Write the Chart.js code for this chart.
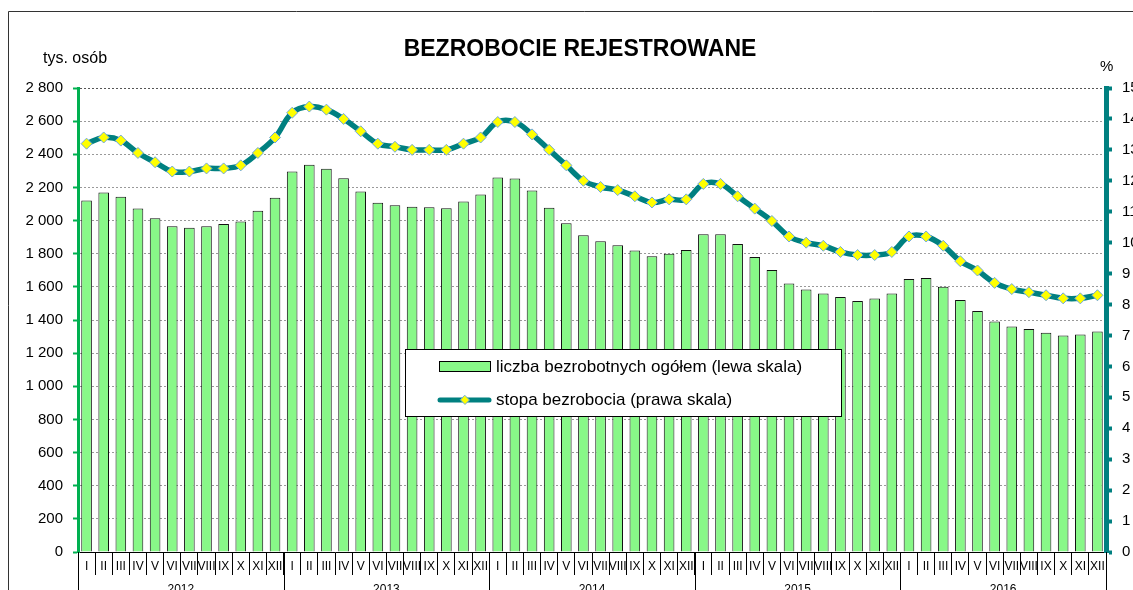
<!DOCTYPE html>
<html>
<head>
<meta charset="utf-8">
<script src="https://cdn.jsdelivr.net/npm/chart.js@4/dist/chart.umd.min.js"></script>
<style>
  html, body { margin: 0; padding: 0; background: #fff; overflow: hidden; }
  #wrap { position: absolute; left: 0; top: 0; width: 1160px; height: 600px; }
</style>
</head>
<body>
<div id="wrap"><canvas id="chart" width="1160" height="600"></canvas></div>
<script>
// Monthly data 2012-2016
const monthLabels = ['I', 'II', 'III', 'IV', 'V', 'VI', 'VII', 'VIII', 'IX', 'X', 'XI', 'XII'];
const yearLabels = ['2012', '2013', '2014', '2015', '2016'];

// liczba bezrobotnych, tys. osób
const unemployed2012 = [2121, 2169, 2143, 2073, 2014, 1966, 1956, 1966, 1980, 1994, 2059, 2137];
const unemployed2013 = [2296, 2337, 2312, 2256, 2175, 2107, 2092, 2083, 2080, 2074, 2115, 2157];
const unemployed2014 = [2260, 2254, 2181, 2077, 1984, 1911, 1875, 1851, 1820, 1784, 1800, 1823];
const unemployed2015 = [1917, 1917, 1859, 1780, 1702, 1621, 1584, 1560, 1539, 1514, 1530, 1560];
const unemployed2016 = [1647, 1653, 1601, 1520, 1454, 1391, 1361, 1345, 1323, 1306, 1312, 1330];

// stopa bezrobocia, %
const rate2012 = [13.2, 13.4, 13.3, 12.9, 12.6, 12.3, 12.3, 12.4, 12.4, 12.5, 12.9, 13.4];
const rate2013 = [14.2, 14.4, 14.3, 14.0, 13.6, 13.2, 13.1, 13.0, 13.0, 13.0, 13.2, 13.4];
const rate2014 = [13.9, 13.9, 13.5, 13.0, 12.5, 12.0, 11.8, 11.7, 11.5, 11.3, 11.4, 11.4];
const rate2015 = [11.9, 11.9, 11.5, 11.1, 10.7, 10.2, 10.0, 9.9, 9.7, 9.6, 9.6, 9.7];
const rate2016 = [10.2, 10.2, 9.9, 9.4, 9.1, 8.7, 8.5, 8.4, 8.3, 8.2, 8.2, 8.3];

const barLabel = 'liczba bezrobotnych ogółem (lewa skala)';
const lineLabel = 'stopa bezrobocia (prawa skala)';

const FONT = 'Arial, "Liberation Sans", sans-serif';
const BAR_GREEN = '#88f888';
const AXIS_GREEN = '#00b050';
const TEAL = '#008080';

const labels = yearLabels.flatMap(() => monthLabels);
const unemployed = [].concat(unemployed2012, unemployed2013, unemployed2014, unemployed2015, unemployed2016);
const rate = [].concat(rate2012, rate2013, rate2014, rate2015, rate2016);

Chart.defaults.font.family = FONT;
Chart.defaults.color = '#000';

const fmtThousands = v => String(v).replace(/\B(?=(\d{3})+(?!\d))/g, ' ');

// Outer frame, axis captions, year row and the inset legend
const decorPlugin = {
    id: 'decor',
    beforeDraw(chart) {
        const { ctx, width, height } = chart;
        ctx.save();
        ctx.fillStyle = '#fff';
        ctx.fillRect(0, 0, width, height);
        ctx.strokeStyle = '#333';
        ctx.lineWidth = 1;
        ctx.beginPath();
        ctx.moveTo(8.5, height);
        ctx.lineTo(8.5, 11.5);
        ctx.lineTo(width, 11.5);
        ctx.stroke();
        ctx.restore();
    },
    afterDatasetsDraw(chart) {
        const { ctx } = chart;
        const ds = chart.data.datasets;
        ctx.save();
        // legend box
        ctx.fillStyle = '#fff';
        ctx.fillRect(405, 349, 436, 67);
        ctx.strokeStyle = '#000';
        ctx.lineWidth = 1;
        ctx.strokeRect(405.5, 349.5, 436, 67);
        // bar swatch
        ctx.fillStyle = ds[1].backgroundColor;
        ctx.fillRect(439.5, 361.5, 51, 10);
        ctx.strokeRect(439.5, 361.5, 51, 10);
        // line swatch
        ctx.strokeStyle = ds[0].borderColor;
        ctx.lineWidth = 5;
        ctx.lineCap = 'round';
        ctx.beginPath();
        ctx.moveTo(440, 400);
        ctx.lineTo(489, 400);
        ctx.stroke();
        ctx.fillStyle = ds[0].pointBackgroundColor;
        ctx.strokeStyle = ds[0].pointBorderColor;
        ctx.lineWidth = 1;
        ctx.beginPath();
        ctx.moveTo(465, 395.5);
        ctx.lineTo(469.5, 400);
        ctx.lineTo(465, 404.5);
        ctx.lineTo(460.5, 400);
        ctx.closePath();
        ctx.fill();
        ctx.stroke();
        ctx.fillStyle = '#000';
        ctx.font = '17px ' + FONT;
        ctx.textBaseline = 'middle';
        ctx.textAlign = 'left';
        ctx.fillText(ds[1].label, 496, 367);
        ctx.fillText(ds[0].label, 496, 400);
        ctx.restore();
    },
    afterDraw(chart) {
        const { ctx, height } = chart;
        const x = chart.scales.x;
        const area = chart.chartArea;
        const step = (x.right - x.left) / labels.length;
        ctx.save();
        ctx.fillStyle = '#000';
        ctx.font = '16px ' + FONT;
        ctx.textBaseline = 'alphabetic';
        ctx.textAlign = 'left';
        ctx.fillText('tys. osób', 43, 63);
        ctx.font = '15px ' + FONT;
        ctx.fillText('%', 1100, 71);
        // year separators and year labels
        ctx.strokeStyle = '#000';
        ctx.lineWidth = 1;
        ctx.font = '12px ' + FONT;
        ctx.textAlign = 'center';
        ctx.textBaseline = 'top';
        yearLabels.forEach((yr, k) => {
            const x0 = Math.round(x.left + k * 12 * step) + 0.5;
            ctx.beginPath();
            ctx.moveTo(x0, area.bottom);
            ctx.lineTo(x0, height);
            ctx.stroke();
            const mid = (x.getPixelForValue(k * 12 + 5) + x.getPixelForValue(k * 12 + 6)) / 2;
            ctx.fillText(yr, mid, 584);
        });
        const xEnd = Math.round(x.right) + 0.5;
        ctx.beginPath();
        ctx.moveTo(xEnd, area.bottom);
        ctx.lineTo(xEnd, height);
        ctx.stroke();
        ctx.restore();
    }
};

new Chart(document.getElementById('chart'), {
    data: {
        labels,
        datasets: [
            {
                type: 'line',
                label: lineLabel,
                data: rate,
                yAxisID: 'y1',
                order: 0,
                borderColor: TEAL,
                borderWidth: 5.5,
                tension: 0.4,
                pointStyle: 'rectRot',
                pointRadius: 5.5,
                pointBackgroundColor: '#ffff00',
                pointBorderColor: '#6fa8dc',
                pointBorderWidth: 1
            },
            {
                type: 'bar',
                label: barLabel,
                data: unemployed,
                yAxisID: 'y',
                order: 1,
                backgroundColor: BAR_GREEN,
                borderColor: '#111',
                borderWidth: 1,
                barPercentage: 0.62,
                categoryPercentage: 1
            }
        ]
    },
    options: {
        responsive: false,
        animation: false,
        devicePixelRatio: 1,
        layout: { padding: 0 },
        plugins: {
            legend: { display: false },
            tooltip: { enabled: false },
            title: {
                display: true,
                text: 'BEZROBOCIE REJESTROWANE',
                font: { size: 23, weight: 'bold' },
                color: '#000',
                padding: { top: 36, bottom: 24.4 }
            }
        },
        scales: {
            x: {
                offset: true,
                afterFit: s => { s.height = 48; },
                grid: { offset: true, drawOnChartArea: false, drawTicks: true, tickLength: 23, color: '#000', lineWidth: 1 },
                border: { color: '#000', width: 1 },
                ticks: { autoSkip: false, maxRotation: 0, minRotation: 0, padding: -16, font: { size: 12 }, color: '#000' }
            },
            y: {
                position: 'left',
                min: 0,
                max: 2800,
                afterFit: s => { s.width = 78; },
                ticks: { stepSize: 200, padding: 10, font: { size: 15 }, color: '#000', callback: v => fmtThousands(v) },
                grid: {
                    color: c => (c.tick && c.tick.value === 2800 ? '#555' : '#999'),
                    lineWidth: 1,
                    tickColor: AXIS_GREEN,
                    tickWidth: 2,
                    tickLength: 5
                },
                border: { color: AXIS_GREEN, width: 3, dash: [2, 2] }
            },
            y1: {
                position: 'right',
                min: 0,
                max: 15,
                afterFit: s => { s.width = 54; },
                ticks: { stepSize: 1, padding: 10, font: { size: 15 }, color: '#000' },
                grid: { drawOnChartArea: false, tickColor: TEAL, tickWidth: 4, tickLength: 6 },
                border: { color: TEAL, width: 5 }
            }
        }
    },
    plugins: [decorPlugin]
});
</script>
</body>
</html>
